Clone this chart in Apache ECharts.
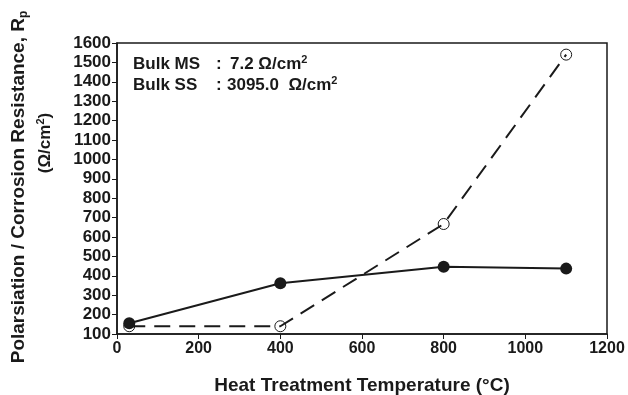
<!DOCTYPE html>
<html>
<head>
<meta charset="utf-8">
<script src="https://cdn.jsdelivr.net/npm/echarts@6/dist/echarts.min.js"></script>
<style>html,body{margin:0;padding:0;background:#fff}#c{width:628px;height:395px}</style>
</head>
<body>
<div id="c"></div>
<script>
const temps = [30, 400, 800, 1100];
const rpFilled = [155, 362, 447, 437];
const rpOpen = [140, 140, 667, 1540];
const xTicks = [0, 200, 400, 600, 800, 1000, 1200];
const yTicks = [100, 200, 300, 400, 500, 600, 700, 800, 900, 1000, 1100, 1200, 1300, 1400, 1500, 1600];

const FONT = '"Liberation Sans", Arial, sans-serif';
const INK = '#1a1a1a';
const chart = echarts.init(document.getElementById('c'));
const rich = (size, sub) => ({
  a: {fontFamily: FONT, fontWeight: 'bold', fontSize: size, fill: INK},
  s: {fontFamily: FONT, fontWeight: 'bold', fontSize: sub, fill: INK, padding: [0, 0, 9, 0]},
  d: {fontFamily: FONT, fontWeight: 'bold', fontSize: sub, fill: INK, padding: [9, 0, 0, 0]}
});
chart.setOption({
  animation: false,
  backgroundColor: '#fff',
  grid: {left: 117, right: 21, top: 43, bottom: 61, outerBoundsMode: 'none', containLabel: false,
         show: true, borderColor: INK, borderWidth: 1.5, backgroundColor: 'transparent'},
  xAxis: {
    type: 'value', min: xTicks[0], max: xTicks[xTicks.length - 1], interval: 200,
    axisLine: {show: true, lineStyle: {color: INK, width: 1.5}},
    axisTick: {show: true, length: 5, lineStyle: {color: INK, width: 1}},
    splitLine: {show: false},
    axisLabel: {color: INK, fontFamily: FONT, fontWeight: 'bold', fontSize: 16, margin: 7, formatter: v => String(v)},
    name: 'Heat Treatment Temperature (°C)', nameLocation: 'middle', nameGap: 42,
    nameTextStyle: {color: INK, fontFamily: FONT, fontWeight: 'bold', fontSize: 19}
  },
  yAxis: {
    type: 'value', min: yTicks[0], max: yTicks[yTicks.length - 1], interval: 100,
    axisLine: {show: true, lineStyle: {color: INK, width: 1.5}},
    axisTick: {show: true, length: 5, lineStyle: {color: INK, width: 1}},
    splitLine: {show: false},
    axisLabel: {color: INK, fontFamily: FONT, fontWeight: 'bold', fontSize: 17, margin: 6, formatter: v => String(v)}
  },
  series: [
    {
      type: 'line', data: temps.map((t, i) => [t, rpOpen[i]]),
      symbol: 'circle', symbolSize: 11,
      lineStyle: {color: INK, width: 2, type: [16, 9]},
      itemStyle: {color: 'rgba(255,255,255,0)', borderColor: INK, borderWidth: 1}
    },
    {
      type: 'line', data: temps.map((t, i) => [t, rpFilled[i]]),
      symbol: 'circle', symbolSize: 12,
      lineStyle: {color: INK, width: 2},
      itemStyle: {color: INK}
    }
  ],
  graphic: [
    {type: 'text', x: 19, y: 187, rotation: Math.PI / 2,
     style: {text: '{a|Polarsiation / Corrosion Resistance, R}{d|p}', align: 'center', verticalAlign: 'middle', rich: rich(19, 12)}},
    {type: 'text', x: 45, y: 143, rotation: Math.PI / 2,
     style: {text: '{a|(Ω/cm}{s|2}{a|)}', align: 'center', verticalAlign: 'middle', rich: rich(17, 11)}},
    {type: 'text', x: 133, y: 64, style: {text: 'Bulk MS', verticalAlign: 'middle', font: 'bold 17px ' + FONT, fill: INK}},
    {type: 'text', x: 216, y: 64, style: {text: ':', verticalAlign: 'middle', font: 'bold 17px ' + FONT, fill: INK}},
    {type: 'text', x: 230, y: 64, style: {text: '{a|7.2 Ω/cm}{s|2}', verticalAlign: 'middle', rich: rich(17, 11)}},
    {type: 'text', x: 133, y: 85, style: {text: 'Bulk SS', verticalAlign: 'middle', font: 'bold 17px ' + FONT, fill: INK}},
    {type: 'text', x: 216, y: 85, style: {text: ':', verticalAlign: 'middle', font: 'bold 17px ' + FONT, fill: INK}},
    {type: 'text', x: 227, y: 85, style: {text: '{a|3095.0  Ω/cm}{s|2}', verticalAlign: 'middle', rich: rich(17, 11)}}
  ]
});
</script>
</body>
</html>
